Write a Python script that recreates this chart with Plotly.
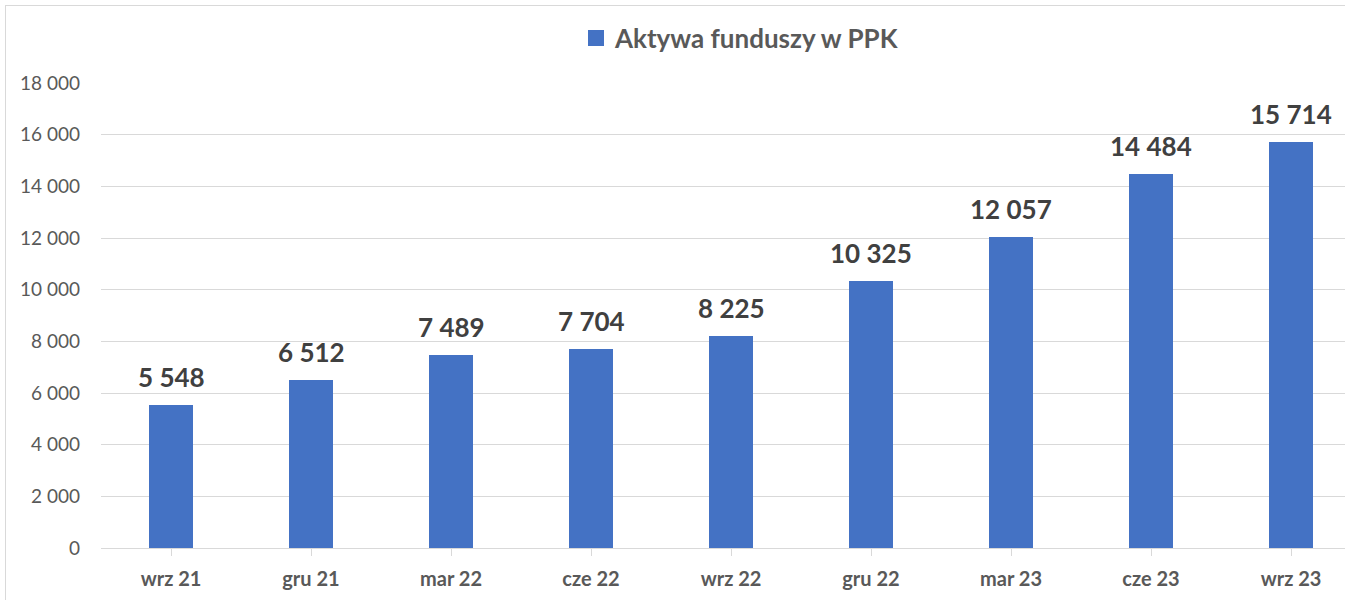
import plotly.graph_objects as go

categories = ["wrz 21", "gru 21", "mar 22", "cze 22", "wrz 22", "gru 22", "mar 23", "cze 23", "wrz 23"]
values = [5548, 6512, 7489, 7704, 8225, 10325, 12057, 14484, 15714]
series_name = "Aktywa funduszy w PPK"
y_ticks = [0, 2000, 4000, 6000, 8000, 10000, 12000, 14000, 16000, 18000]


def fmt(v):
    return f"{v:,}".replace(",", " ")


labels = [fmt(v) for v in values]
y_tick_text = [fmt(v) for v in y_ticks]

W, H = 1345, 600
ml, mt, mb = 101, 83, 52
plot_w = W - ml
plot_h = H - mt - mb
cat_w = 140


def px_x(px):
    return (px - ml) / plot_w


def px_y(py):
    return (H - mb - py) / plot_h


fig = go.Figure()
fig.add_trace(go.Bar(
    x=list(range(len(categories))),
    y=values,
    name=series_name,
    marker=dict(color="#4472C4", line=dict(width=0)),
    width=0.314,
    showlegend=False,
))

annotations = []
for i, (v, t) in enumerate(zip(values, labels)):
    annotations.append(dict(
        x=i, y=v, xref="x", yref="y", text=t, showarrow=False,
        yanchor="bottom", xanchor="center", yshift=10,
        font=dict(family="Lato", size=26, color="#404040", weight="bold"),
    ))

# legend (manual)
annotations.append(dict(
    x=px_x(612), y=px_y(38), xref="paper", yref="paper", text=series_name,
    showarrow=False, xanchor="left", yanchor="middle",
    font=dict(family="Lato", size=26, color="#595959", weight="bold"),
))

x_max = -0.5 + plot_w / cat_w

border = dict(color="#d9d9d9", width=1)

fig.update_layout(
    width=W, height=H,
    margin=dict(l=ml, r=0, t=mt, b=mb),
    paper_bgcolor="white",
    plot_bgcolor="white",
    bargap=0,
    showlegend=False,
    xaxis=dict(
        range=[-0.5, x_max],
        tickmode="array",
        tickvals=list(range(len(categories))),
        ticktext=categories,
        showgrid=False,
        showline=True, linecolor="#d9d9d9", linewidth=1,
        ticks="outside", ticklen=7, tickcolor="#d9d9d9",
        tickson="boundaries",
        ticklabelstandoff=6,
        tickfont=dict(family="Lato", size=20, color="#595959", weight="bold"),
        zeroline=False,
    ),
    yaxis=dict(
        range=[0, 18000],
        tickmode="array",
        tickvals=y_ticks,
        ticktext=y_tick_text,
        showgrid=True, gridcolor="#d9d9d9", gridwidth=1,
        showline=False, zeroline=False,
        ticklabelstandoff=20,
        tickfont=dict(family="Lato", size=19, color="#595959"),
    ),
    annotations=annotations,
    shapes=[
        dict(type="line", xref="paper", yref="paper",
             x0=px_x(5.5), x1=px_x(5.5), y0=px_y(5), y1=px_y(600),
             line=border, layer="below"),
        dict(type="line", xref="paper", yref="paper",
             x0=px_x(5), x1=px_x(1345), y0=px_y(5.5), y1=px_y(5.5),
             line=border, layer="below"),
        dict(
            type="rect", xref="paper", yref="paper",
            x0=px_x(588), x1=px_x(604),
            y0=px_y(46), y1=px_y(30),
            line=dict(width=0),
            fillcolor="#4472C4",
        ),
    ],
)

fig.write_html(
    "out.html",
    config={"displayModeBar": False},
    post_script="document.body.style.margin='0px';document.body.style.overflow='hidden';document.documentElement.style.overflow='hidden';",
)
